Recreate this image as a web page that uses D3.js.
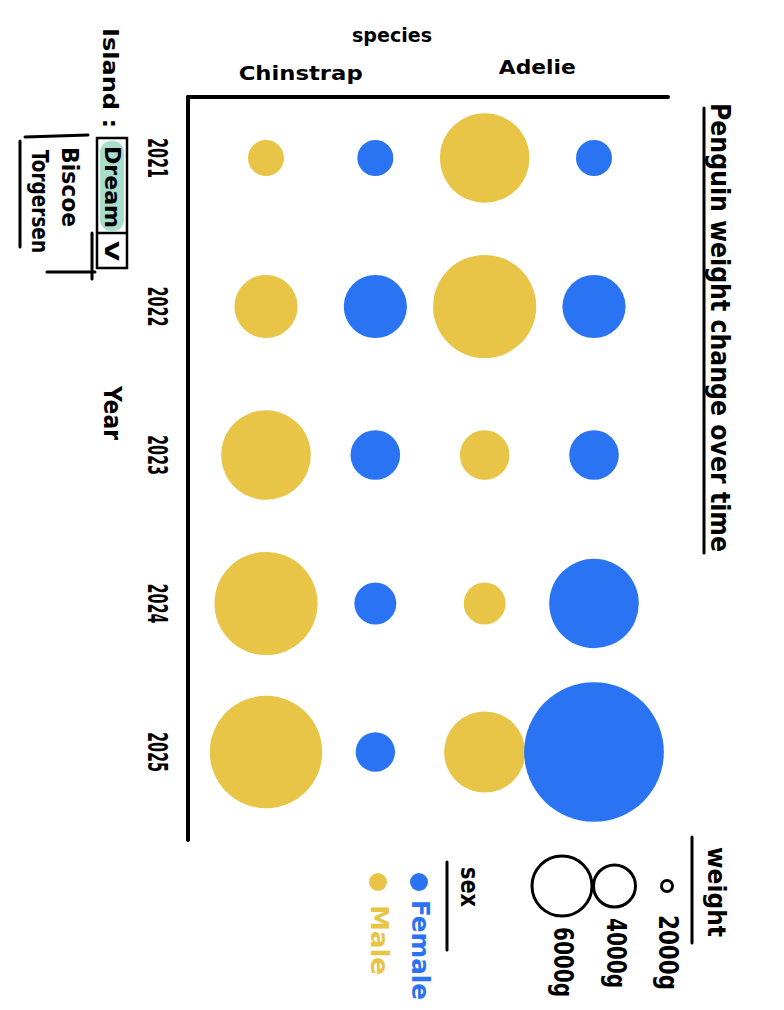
<!DOCTYPE html>
<html>
<head>
<meta charset="utf-8">
<script src="https://cdn.jsdelivr.net/npm/d3@7"></script>
<style>
  html, body { margin: 0; padding: 0; background: #fff; }
  svg { display: block; }
  text { font-family: "DejaVu Sans Condensed", "DejaVu Sans", sans-serif; font-weight: bold; }
</style>
</head>
<body>
<svg id="chart" width="784" height="1010"></svg>
<script>
// ---- data ----
const title = "Penguin weight change over time";
const years = ["2021", "2022", "2023", "2024", "2025"];
const speciesList = ["Chinstrap", "Adelie"];
const sexes = ["Male", "Female"];
const sexLabels = ["Female", "Male"];
// weights in grams, per year, per species/sex column
const chinstrapMale   = [2000, 3600, 5150, 5950, 6500];
const chinstrapFemale = [2000, 3600, 2800, 2350, 2200];
const adelieMale      = [5150, 5950, 2800, 2350, 4650];
const adelieFemale    = [2000, 3600, 2800, 5150, 8100];
const legendWeights = [2000, 4000, 6000];
const legendWeightLabels = ["2000g", "4000g", "6000g"];
const islands = ["Dream", "Biscoe", "Torgersen"];

const colors = { Male: "#E9C547", Female: "#2A74F3" };

// ---- build rows ----
const series = [
  { species: "Chinstrap", sex: "Male", values: chinstrapMale },
  { species: "Chinstrap", sex: "Female", values: chinstrapFemale },
  { species: "Adelie", sex: "Male", values: adelieMale },
  { species: "Adelie", sex: "Female", values: adelieFemale }
];
const points = [];
series.forEach(s => s.values.forEach((v, i) => points.push({ key: s.species + "-" + s.sex, species: s.species, sex: s.sex, year: years[i], weight: v })));

const svg = d3.select("#chart");

// ---- scales ----
const x = d3.scalePoint().domain(series.map(s => s.species + "-" + s.sex)).range([266, 594]);
const y = d3.scalePoint().domain(years).range([158, 752]);
const r = d3.scaleLinear().domain([2000, 6000]).range([18, 52]);
const rLegend = d3.scaleLinear().domain(legendWeights).range([5.5, 21, 30]);

// helper for vertical (rotated) text
function vtext(g, cx, y0, y1, str, size, fill) {
  return g.append("text")
    .attr("transform", `translate(${cx},${(y0 + y1) / 2}) rotate(90)`)
    .attr("text-anchor", "middle")
    .attr("dominant-baseline", "central")
    .attr("font-size", size)
    .attr("textLength", y1 - y0)
    .attr("lengthAdjust", "spacingAndGlyphs")
    .attr("fill", fill || "#000")
    .text(str);
}

// ---- axes lines ----
svg.append("line").attr("x1", 188).attr("x2", 668).attr("y1", 97).attr("y2", 97)
  .attr("stroke", "#000").attr("stroke-width", 4).attr("stroke-linecap", "round");
svg.append("line").attr("x1", 188).attr("x2", 188).attr("y1", 97).attr("y2", 840)
  .attr("stroke", "#000").attr("stroke-width", 4).attr("stroke-linecap", "round");

// ---- bubbles ----
svg.append("g").selectAll("circle").data(points).join("circle")
  .attr("cx", d => x(d.key))
  .attr("cy", d => y(d.year))
  .attr("r", d => r(d.weight))
  .attr("fill", d => colors[d.sex]);

// ---- species labels (horizontal) ----
svg.append("text").attr("x", 392).attr("y", 42).attr("text-anchor", "middle")
  .attr("font-size", 19).attr("textLength", 80).attr("lengthAdjust", "spacingAndGlyphs").text("species");
const speciesCenter = sp => (x(sp + "-Male") + x(sp + "-Female")) / 2;
const spLab = { Chinstrap: { dx: -20, y: 80, len: 124 }, Adelie: { dx: -2, y: 74, len: 77 } };
speciesList.forEach(sp => {
  svg.append("text").attr("x", speciesCenter(sp) + spLab[sp].dx).attr("y", spLab[sp].y)
    .attr("text-anchor", "middle").attr("font-size", 20)
    .attr("textLength", spLab[sp].len).attr("lengthAdjust", "spacingAndGlyphs").text(sp);
});

// ---- year labels ----
const gy = svg.append("g");
years.forEach(yr => vtext(gy, 157, y(yr) - 20, y(yr) + 20, yr, 27));
vtext(gy, 112, 386, 440, "Year", 24);

// ---- title ----
vtext(svg, 720, 103, 552, title, 26);
svg.append("line").attr("x1", 704).attr("x2", 704).attr("y1", 108).attr("y2", 553)
  .attr("stroke", "#000").attr("stroke-width", 3).attr("stroke-linecap", "round");

// ---- island dropdown ----
const gd = svg.append("g");
vtext(gd, 110, 28, 128, "Island :", 22);
gd.append("rect").attr("x", 100).attr("y", 141).attr("width", 24).attr("height", 90)
  .attr("rx", 11).attr("fill", "#A8DCCB");
gd.append("rect").attr("x", 97).attr("y", 138).attr("width", 30).attr("height", 130)
  .attr("fill", "none").attr("stroke", "#000").attr("stroke-width", 2.5);
gd.append("line").attr("x1", 97).attr("x2", 127).attr("y1", 233).attr("y2", 233)
  .attr("stroke", "#000").attr("stroke-width", 2.5);
vtext(gd, 112, 146, 228, islands[0], 21);
vtext(gd, 112, 241, 261, "V", 20);
vtext(gd, 70, 147, 227, islands[1], 23);
vtext(gd, 40, 150, 253, islands[2], 23);
gd.append("path").attr("d", "M88,135 L25,137 M20,141 L20,247 M47,272 L95,272 M92,233 L92,279")
  .attr("fill", "none").attr("stroke", "#000").attr("stroke-width", 3).attr("stroke-linecap", "round");

// ---- weight legend ----
const gl = svg.append("g");
vtext(gl, 716, 847, 937, "weight", 25);
gl.append("line").attr("x1", 692).attr("x2", 692).attr("y1", 837).attr("y2", 943)
  .attr("stroke", "#000").attr("stroke-width", 3).attr("stroke-linecap", "round");
const legX = d3.scalePoint().domain(legendWeights).range([667, 562]);
gl.selectAll("circle.leg").data(legendWeights).join("circle").attr("class", "leg")
  .attr("cx", d => legX(d)).attr("cy", 886)
  .attr("r", d => rLegend(d))
  .attr("fill", "none").attr("stroke", "#000").attr("stroke-width", 3);
const legLabelY = [[915, 990], [918, 988], [927, 997]];
legendWeights.forEach((w, i) => vtext(gl, legX(w) + 1, legLabelY[i][0], legLabelY[i][1], legendWeightLabels[i], 26));

// ---- sex legend ----
const gs = svg.append("g");
vtext(gs, 469, 867, 907, "sex", 24);
gs.append("line").attr("x1", 447).attr("x2", 447).attr("y1", 862).attr("y2", 950)
  .attr("stroke", "#000").attr("stroke-width", 3).attr("stroke-linecap", "round");
const sexX = d3.scalePoint().domain(sexLabels).range([419, 378]);
gs.selectAll("circle").data(sexLabels).join("circle")
  .attr("cx", d => sexX(d)).attr("cy", 882).attr("r", 9).attr("fill", d => colors[d]);
const sexLabY = { Female: [900, 1000], Male: [905, 975] };
sexLabels.forEach(s => vtext(gs, sexX(s) + 1, sexLabY[s][0], sexLabY[s][1], s, 24, colors[s]));
</script>
</body>
</html>
